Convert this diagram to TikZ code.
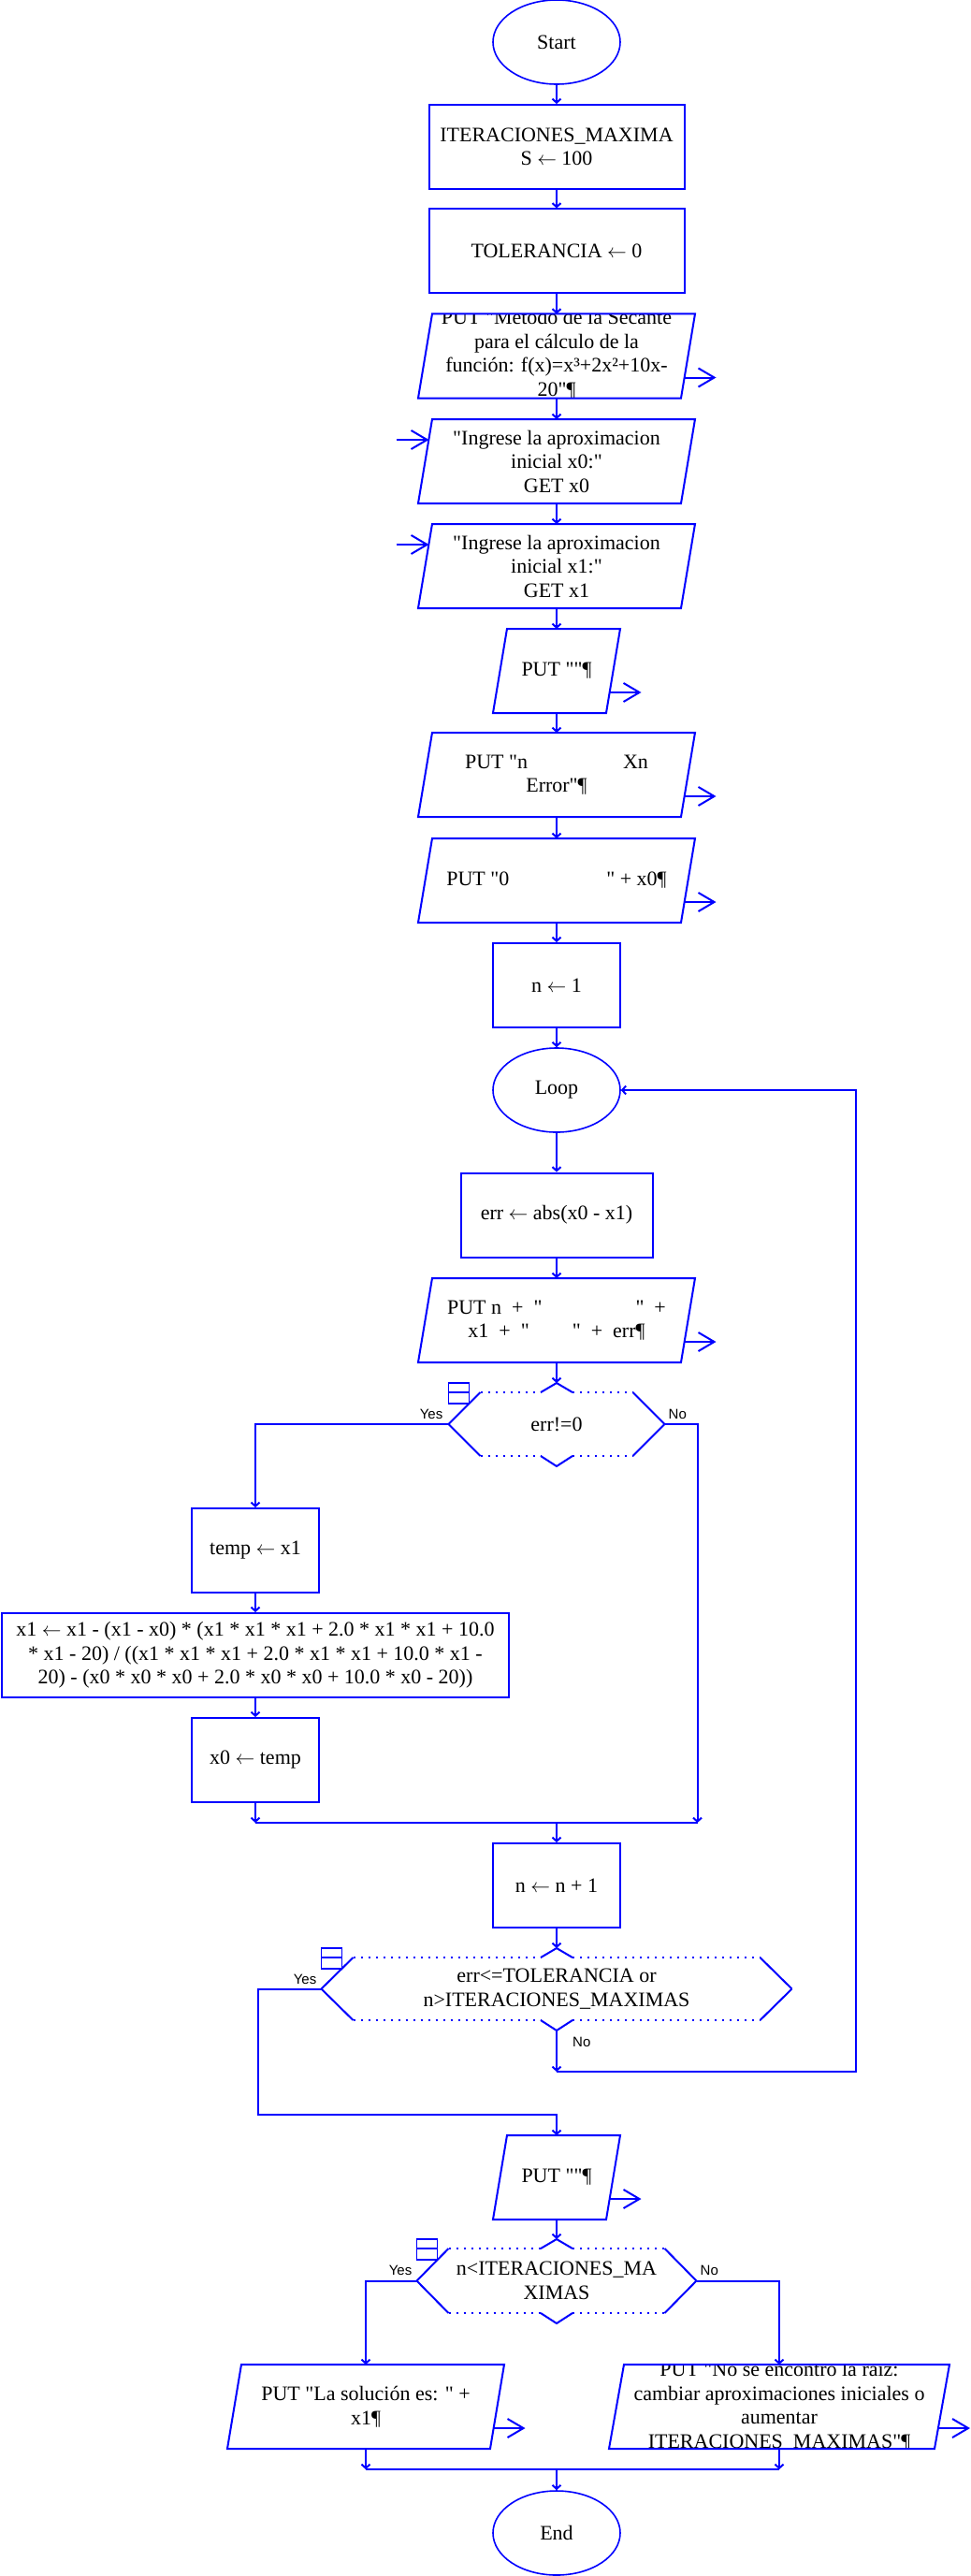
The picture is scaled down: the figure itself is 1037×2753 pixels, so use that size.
\documentclass[tikz,border=0pt]{standalone}
\usepackage{fontspec}
\setmainfont{Liberation Serif}[Ligatures=TeXOff]
\newfontfamily\labelfont{Liberation Sans}
\usetikzlibrary{arrows.meta,positioning,shapes.geometric}
\definecolor{Blue}{HTML}{0000FF}
\newcommand\la{\ensuremath{\leftarrow}}
\tikzset{
  block/.style={draw=Blue,line width=2pt,minimum height=90pt,inner sep=0pt,align=center,
    font=\fontsize{22pt}{25.5pt}\selectfont},
  term/.style={ellipse,draw=Blue,line width=1.6pt,minimum width=136pt,minimum height=90pt,
    inner sep=0pt,font=\fontsize{22pt}{25.5pt}\selectfont},
  iobox/.style={minimum height=90pt,inner sep=0pt,outer sep=0pt,align=center,
    font=\fontsize{22pt}{25.5pt}\selectfont},
  iotext/.style={inner sep=0pt,align=center,font=\fontsize{22pt}{25.5pt}\selectfont},
  decide/.style={inner sep=0pt,outer sep=0pt,align=center,font=\fontsize{22pt}{25.5pt}\selectfont},
  outline/.style={draw=Blue,line width=2pt},
  dotline/.style={draw=Blue,line width=2pt,dash pattern=on 2pt off 6pt},
  flow/.style={-{Straight Barb[length=4pt,width=9pt]},draw=Blue,line width=2pt},
  ioflow/.style={-{Straight Barb[length=17pt,width=20pt]},draw=Blue,line width=2pt},
  yesno/.style={inner sep=0pt,font=\labelfont\fontsize{15pt}{17pt}\selectfont}
}
\newcommand\drawio[2][7.5pt]{\draw[outline] ([xshift=#1]#2.north west) -- ([xshift=#1]#2.north east)
  -- ([xshift=-#1]#2.south east) -- ([xshift=-#1]#2.south west) -- cycle;}
\newcommand\outarrow[1]{\draw[ioflow] ([xshift=-4pt,yshift=22pt]#1.south east) -- ([xshift=30pt,yshift=22pt]#1.south east);}
\newcommand\inarrow[1]{\draw[ioflow] ([xshift=-31pt,yshift=-22pt]#1.north west) -- ([xshift=4pt,yshift=-22pt]#1.north west);}
\newcommand\drawdec[1]{%
  \draw[outline] (#1.west) -- ([xshift=34pt]#1.north west) (#1.west) -- ([xshift=34pt]#1.south west)
    (#1.east) -- ([xshift=-34pt]#1.north east) (#1.east) -- ([xshift=-34pt]#1.south east)
    ([xshift=-17pt]#1.north) -- ([yshift=10pt]#1.north) -- ([xshift=17pt]#1.north)
    ([xshift=-17pt]#1.south) -- ([yshift=-11pt]#1.south) -- ([xshift=17pt]#1.south);
  \draw[dotline] ([xshift=34pt]#1.north west) -- ([xshift=-17pt]#1.north)
    ([xshift=17pt]#1.north) -- ([xshift=-34pt]#1.north east)
    ([xshift=34pt]#1.south west) -- ([xshift=-17pt]#1.south)
    ([xshift=17pt]#1.south) -- ([xshift=-34pt]#1.south east);
  \draw[outline,line width=1.6pt] ([yshift=10pt]#1.north west) rectangle ([xshift=22pt,yshift=-12pt]#1.north west)
    (#1.north west) -- ([xshift=22pt]#1.north west);}

\begin{document}
\begin{tikzpicture}[x=1pt,y=-1pt]
\useasboundingbox (0,0) rectangle (1037,2753);
% main column
\node[term] (start) at (595,45) {Start};
\node[block,minimum width=273pt] (itmax) at (595,157) {ITERACIONES\_MAXIMA\\S \la{} 100};
\node[block,minimum width=273pt] (tol) at (595,268.5) {TOLERANCIA \la{} 0};
\node[iobox,minimum width=281pt] (title) at (595,380.5) {};
\begin{scope}
  \clip ([xshift=7.5pt]title.north west) -- ([xshift=7.5pt]title.north east)
    -- ([xshift=-7.5pt]title.south east) -- ([xshift=-7.5pt]title.south west) -- cycle;
  \node[iotext] (titletext) at ([yshift=2pt]title.center)
    {PUT "Método de la Secante\\para el cálculo de la\\función: f(x)=x³+2x²+10x-\\20"¶};
\end{scope}
\node[iobox,minimum width=281pt] (getx0) at (595,493) {"Ingrese la aproximacion\\inicial x0:"\\GET x0};
\node[iobox,minimum width=281pt] (getx1) at (595,605) {"Ingrese la aproximacion\\inicial x1:"\\GET x1};
\node[iobox,minimum width=121pt] (blank1) at (595,717) {PUT ""¶};
\node[iobox,minimum width=281pt] (header) at (595,828) {PUT "n\hspace{102pt}Xn\\Error"¶};
\node[iobox,minimum width=281pt] (row0) at (595,941) {PUT "0\hspace{104pt}" + x0¶};
\node[block,minimum width=136pt] (ninit) at (595,1053) {n \la{} 1};
\node[term] (loop) at (595,1165) {Loop};
\node[block,minimum width=205pt] (err) at (595,1298.5) {err \la{} abs(x0 - x1)};
\node[iobox,minimum width=281pt] (row) at (595,1411)
  {PUT n~~+~~"\hspace{100pt}"~~+\\x1~~+~~"\hspace{46pt}"~~+~~err¶};
\node[decide,minimum width=231pt,minimum height=68pt] (dec1) at (595,1522) {err!=0};
% yes branch
\node[block,minimum width=136pt] (temp) at (273,1657) {temp \la{} x1};
\node[block,minimum width=542pt] (update) at (273,1769)
  {x1 \la{} x1 - (x1 - x0) * (x1 * x1 * x1 + 2.0 * x1 * x1 + 10.0\\* x1 - 20) / ((x1 * x1 * x1 + 2.0 * x1 * x1 + 10.0 * x1 -\\20) - (x0 * x0 * x0 + 2.0 * x0 * x0 + 10.0 * x0 - 20))};
\node[block,minimum width=136pt] (swap) at (273,1881) {x0 \la{} temp};
\node[block,minimum width=136pt] (ninc) at (595,2015) {n \la{} n + 1};
\node[decide,minimum width=503pt,minimum height=67pt] (dec2) at (595,2125.5)
  {err<=TOLERANCIA or\\n>ITERACIONES\_MAXIMAS};
\node[iobox,minimum width=121pt] (blank2) at (595,2327) {PUT ""¶};
\node[decide,minimum width=299pt,minimum height=69pt] (dec3) at (595,2437.5) {n<ITERACIONES\_MA\\XIMAS};
\node[iobox,minimum width=281pt] (result) at (391,2572) {PUT "La solución es: " +\\x1¶};
\node[iobox,minimum width=348pt] (fail) at (833,2572) {};
\begin{scope}
  \clip ([xshift=8pt]fail.north west) -- ([xshift=8pt]fail.north east)
    -- ([xshift=-8pt]fail.south east) -- ([xshift=-8pt]fail.south west) -- cycle;
  \node[iotext] (failtext) at (fail.center)
    {PUT "No se encontro la raiz:\\cambiar aproximaciones iniciales o\\aumentar\\ITERACIONES\_MAXIMAS"¶};
\end{scope}
\node[term] (stop) at (595,2707) {End};

% shapes
\foreach \n in {title,getx0,getx1,blank1,header,row0,row,blank2,result} {\drawio{\n}}
\drawio[8pt]{fail}
\foreach \n in {title,blank1,header,row0,row,blank2,result,fail} {\outarrow{\n}}
\inarrow{getx0}
\inarrow{getx1}
\drawdec{dec1}
\drawdec{dec2}
\drawdec{dec3}

% labels
\node[yesno,anchor=base east] (yes1) at ([xshift=-6pt,yshift=6pt]dec1.west) {Yes};
\node[yesno,anchor=base west] (no1) at ([xshift=4pt,yshift=6pt]dec1.east) {No};
\node[yesno,anchor=base east] (yes2) at ([xshift=-5pt,yshift=5pt]dec2.west) {Yes};
\node[yesno,anchor=base west] (no2) at ([xshift=17pt,yshift=-28pt]dec2.south) {No};
\node[yesno,anchor=base east] (yes3) at ([xshift=-5pt,yshift=6pt]dec3.west) {Yes};
\node[yesno,anchor=base west] (no3) at ([xshift=4pt,yshift=6pt]dec3.east) {No};

% connectors
\draw[flow] (start.south) -- (itmax.north);
\draw[flow] (itmax.south) -- (tol.north);
\draw[flow] (tol.south) -- (title.north);
\draw[flow] (title.south) -- (getx0.north);
\draw[flow] (getx0.south) -- (getx1.north);
\draw[flow] (getx1.south) -- (blank1.north);
\draw[flow] (blank1.south) -- (header.north);
\draw[flow] (header.south) -- (row0.north);
\draw[flow] (row0.south) -- (ninit.north);
\draw[flow] (ninit.south) -- (loop.north);
\draw[flow] (loop.south) -- (err.north);
\draw[flow] (err.south) -- (row.north);
\draw[flow] (row.south) -- ([yshift=10pt]dec1.north);
\draw[flow] (dec1.west) -| (temp.north);
\draw[flow] (temp.south) -- (update.north);
\draw[flow] (update.south) -- (swap.north);
\coordinate (join1) at (595,1948);
\draw[flow] (dec1.east) -- ++(35,0) coordinate (noside) -- (noside |- join1);
\draw[flow] (swap.south) -- (swap.south |- join1);
\draw[outline] (swap.south |- join1) -- (noside |- join1);
\draw[flow] (join1) -- (ninc.north);
\draw[flow] (ninc.south) -- ([yshift=10pt]dec2.north);
\coordinate (join2) at (595,2260);
\draw[flow] (dec2.west) -- ++(-68,0) |- (join2) -- (blank2.north);
\coordinate (rail) at (915,1165);
\draw[flow] ([yshift=-11pt]dec2.south) -- ++(0,44) coordinate (nobend);
\draw[flow] (nobend) -| (rail) -- (loop.east);
\draw[flow] (blank2.south) -- ([yshift=10pt]dec3.north);
\draw[flow] (dec3.west) -| (result.north);
\draw[flow] (dec3.east) -| (fail.north);
\coordinate (join3) at (595,2639);
\draw[flow] (result.south) -- (result.south |- join3);
\draw[flow] (fail.south) -- (fail.south |- join3);
\draw[outline] (result.south |- join3) -- (fail.south |- join3);
\draw[flow] (join3) -- (stop.north);
\end{tikzpicture}
\end{document}
